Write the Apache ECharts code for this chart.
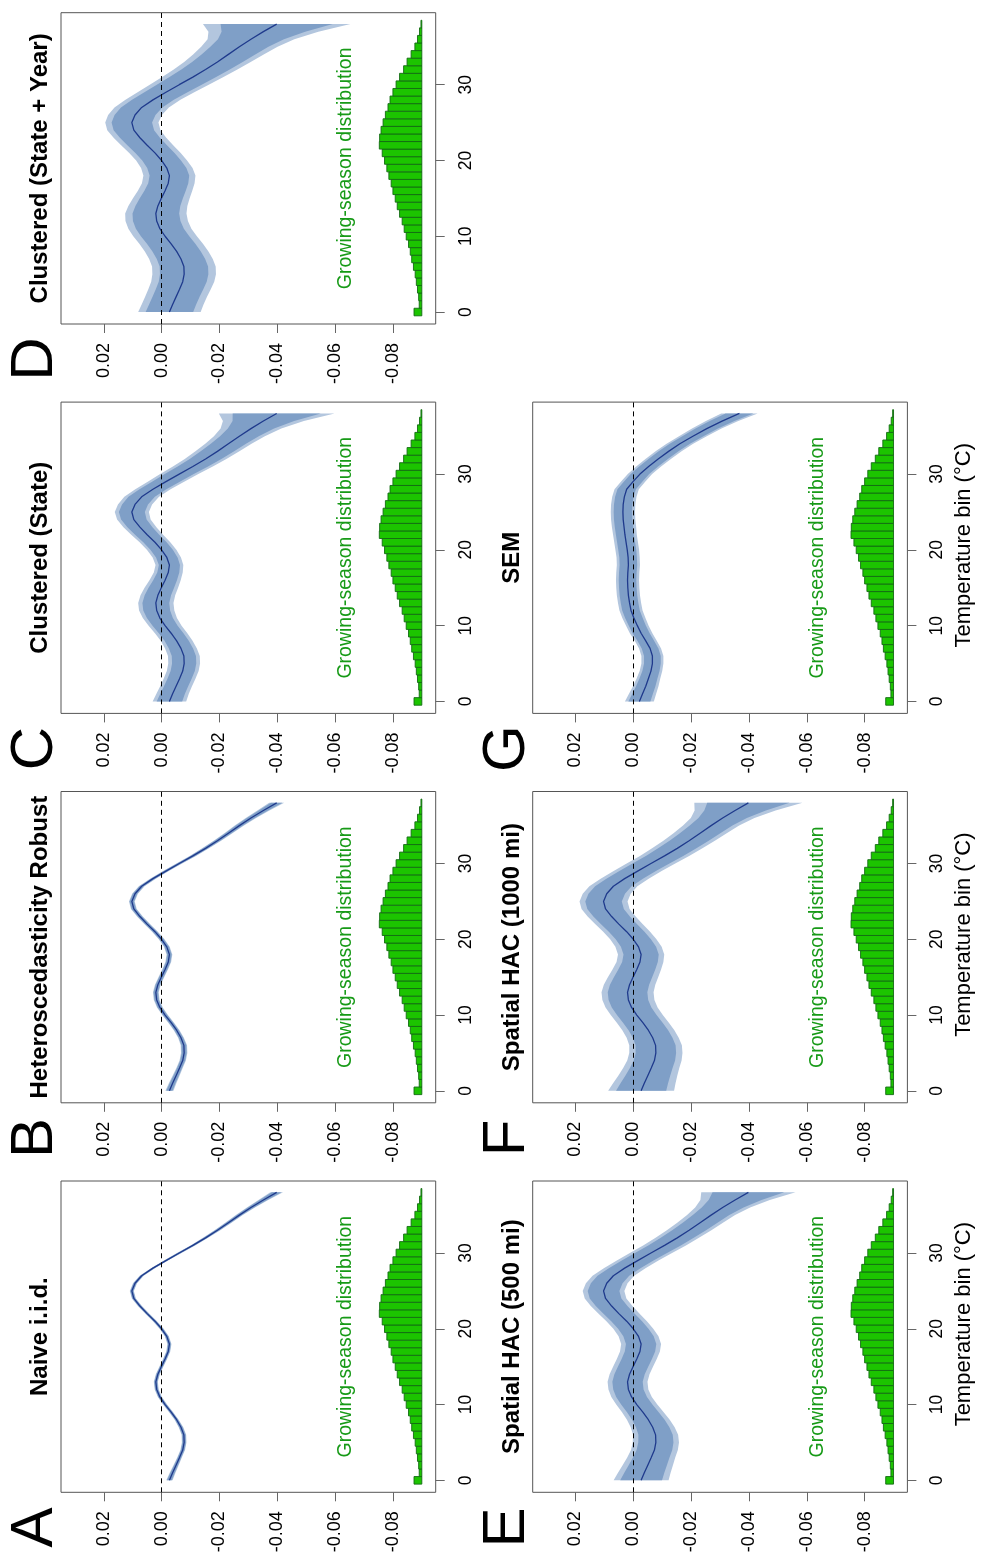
<!DOCTYPE html>
<html><head><meta charset="utf-8">
<script src="https://cdn.jsdelivr.net/npm/echarts@6/dist/echarts.min.js"></script>
<style>html,body{margin:0;padding:0;background:#fff}#c{width:981px;height:1564px}</style>
</head><body><div id="c"></div>
<script>
// ---------- data ----------
const temps = [0,1,2,3,4,5,6,7,8,9,10,11,12,13,14,15,16,17,18,19,20,21,22,23,24,25,26,27,28,29,30,31,32,33,34,35,36,37,38];
const tempTicks = [0,10,20,30];
const valueTicks = [0.02,0,-0.02,-0.04,-0.06,-0.08];
// growing-season exposure histogram (bar length in plot units)
const histLen = [0.0027,0.0009,0.0011,0.0015,0.0019,0.0023,0.0029,0.0035,0.0040,0.0046,0.0054,0.0061,0.0068,0.0077,0.0085,0.0092,0.0100,0.0106,0.0114,0.0121,0.0129,0.0137,0.0147,0.0146,0.0141,0.0134,0.0126,0.0117,0.0110,0.0100,0.0089,0.0077,0.0063,0.0051,0.0037,0.0024,0.0015,0.0008,0.0003];
// point estimates
const estMain = [-0.0027,-0.0038,-0.0050,-0.0062,-0.0073,-0.0078,-0.0077,-0.0067,-0.0052,-0.0033,-0.0012,0.0006,0.0017,0.0020,0.0013,0.0001,-0.0012,-0.0023,-0.0027,-0.0018,0.0000,0.0023,0.0050,0.0075,0.0096,0.0103,0.0092,0.0069,0.0030,-0.0015,-0.0061,-0.0108,-0.0152,-0.0193,-0.0231,-0.0269,-0.0309,-0.0352,-0.0398];
const estSEM = [-0.0021,-0.0032,-0.0043,-0.0052,-0.0061,-0.0066,-0.0066,-0.0058,-0.0043,-0.0027,-0.0014,-0.0002,0.0008,0.0013,0.0017,0.0019,0.0020,0.0019,0.0017,0.0018,0.0021,0.0025,0.0029,0.0032,0.0035,0.0036,0.0035,0.0031,0.0023,0.0001,-0.0023,-0.0053,-0.0086,-0.0122,-0.0161,-0.0206,-0.0254,-0.0307,-0.0367];
// half-widths of the outer (99%) confidence band
const hwA = [0.0011,0.0010,0.0009,0.0008,0.0008,0.0008,0.0008,0.0008,0.0007,0.0007,0.0007,0.0007,0.0007,0.0007,0.0007,0.0007,0.0007,0.0007,0.0007,0.0007,0.0007,0.0007,0.0007,0.0007,0.0007,0.0007,0.0007,0.0007,0.0007,0.0007,0.0008,0.0008,0.0009,0.0010,0.0011,0.0012,0.0014,0.0017,0.0022];
const hwB = [0.0014,0.0013,0.0012,0.0011,0.0011,0.0011,0.0011,0.0010,0.0010,0.0010,0.0010,0.0010,0.0010,0.0010,0.0010,0.0010,0.0010,0.0010,0.0010,0.0010,0.0010,0.0010,0.0010,0.0010,0.0010,0.0010,0.0010,0.0010,0.0010,0.0010,0.0010,0.0011,0.0012,0.0013,0.0014,0.0016,0.0018,0.0021,0.0026];
const hwC = [0.0058,0.0056,0.0055,0.0055,0.0055,0.0055,0.0055,0.0055,0.0055,0.0056,0.0057,0.0059,0.0061,0.0061,0.0060,0.0058,0.0054,0.0050,0.0048,0.0049,0.0051,0.0053,0.0055,0.0057,0.0058,0.0059,0.0059,0.0060,0.0061,0.0063,0.0066,0.0069,0.0072,0.0076,0.0080,0.0088,0.0105,0.0140,0.0200];
const hwD = [0.0108,0.0107,0.0107,0.0108,0.0109,0.0110,0.0110,0.0110,0.0110,0.0110,0.0110,0.0109,0.0108,0.0106,0.0102,0.0098,0.0094,0.0091,0.0090,0.0089,0.0088,0.0089,0.0090,0.0091,0.0092,0.0092,0.0093,0.0094,0.0095,0.0098,0.0102,0.0106,0.0110,0.0115,0.0122,0.0132,0.0150,0.0190,0.0255];
const hwE = [0.0095,0.0091,0.0087,0.0083,0.0081,0.0080,0.0078,0.0076,0.0074,0.0072,0.0071,0.0070,0.0069,0.0069,0.0069,0.0069,0.0069,0.0069,0.0069,0.0069,0.0069,0.0070,0.0071,0.0072,0.0072,0.0072,0.0072,0.0072,0.0072,0.0072,0.0073,0.0074,0.0075,0.0077,0.0079,0.0083,0.0095,0.0120,0.0163];
const hwF = [0.0114,0.0108,0.0102,0.0097,0.0094,0.0092,0.0091,0.0090,0.0090,0.0090,0.0090,0.0090,0.0090,0.0090,0.0089,0.0087,0.0084,0.0081,0.0080,0.0080,0.0080,0.0081,0.0082,0.0083,0.0083,0.0083,0.0083,0.0083,0.0083,0.0083,0.0084,0.0085,0.0087,0.0089,0.0092,0.0097,0.0110,0.0140,0.0187];
const hwG = [0.0050,0.0047,0.0044,0.0041,0.0039,0.0038,0.0038,0.0038,0.0038,0.0039,0.0039,0.0040,0.0040,0.0040,0.0040,0.0040,0.0040,0.0040,0.0040,0.0040,0.0041,0.0041,0.0041,0.0042,0.0042,0.0042,0.0042,0.0042,0.0042,0.0042,0.0042,0.0043,0.0044,0.0045,0.0046,0.0048,0.0051,0.0056,0.0063];
const letters = ['A','B','C','D','E','F','G'];
const titles = ['Naive i.i.d.','Heteroscedasticity Robust','Clustered (State)','Clustered (State + Year)','Spatial HAC (500 mi)','Spatial HAC (1000 mi)','SEM'];
const xLabel = 'Temperature bin (\u00B0C)';
const distLabel = 'Growing-season distribution';

// ---------- layout / style ----------
const Z95 = 1.96, Z99 = 2.576;
const HIST_BASE = -0.09;
const colLeft = [61, 532.7];
const rowTop = [12.7, 402.1, 791.5, 1181];
const W = 374.7, H = 311.3;
const FONT = 'Liberation Sans, Arial, Helvetica, sans-serif';
const panelEst = [estMain, estMain, estMain, estMain, estMain, estMain, estSEM];
const panelHw = [hwA, hwB, hwC, hwD, hwE, hwF, hwG];
const panelPos = [[0,3],[0,2],[0,1],[0,0],[1,3],[1,2],[1,1]];

const grids = [], xAxes = [], yAxes = [], series = [], graphics = [];

function band(i, est, hw, factor, color) {
  return {
    type: 'custom', xAxisIndex: i, yAxisIndex: i, silent: true,
    data: [[0, 0]], encode: {x: 0, y: 1},
    renderItem: function (params, api) {
      const up = [], lo = [];
      temps.forEach(function (t, k) {
        up.push(api.coord([est[k] + hw[k] * factor, t]));
        lo.push(api.coord([est[k] - hw[k] * factor, t]));
      });
      return {type: 'polygon', shape: {points: up.concat(lo.reverse())}, style: {fill: color}};
    }
  };
}

for (let i = 0; i < 7; i++) {
  const c = panelPos[i][0], r = panelPos[i][1];
  const L = colLeft[c], T = rowTop[r];
  grids.push({left: L, top: T, width: W, height: H, show: true, borderColor: '#555', borderWidth: 1, backgroundColor: 'transparent'});
  xAxes.push({
    gridIndex: i, type: 'value', inverse: true, min: -0.0948, max: 0.0348, position: 'bottom',
    axisLine: {show: false, onZero: false}, splitLine: {show: false},
    axisTick: {show: true, length: 9, customValues: valueTicks, lineStyle: {color: '#666', width: 1}},
    axisLabel: {customValues: valueTicks, rotate: 90, margin: 19, fontSize: 18, color: '#000', fontFamily: FONT,
      formatter: function (v) { return v.toFixed(2); }}
  });
  yAxes.push({
    gridIndex: i, type: 'value', min: -1.58, max: 39.5, position: 'right',
    axisLine: {show: false, onZero: false}, splitLine: {show: false},
    axisTick: {show: true, length: 9, customValues: tempTicks, lineStyle: {color: '#666', width: 1}},
    axisLabel: {customValues: tempTicks, rotate: 90, margin: 21, fontSize: 17.5, color: '#000', fontFamily: FONT}
  });
  const est = panelEst[i], hw = panelHw[i];
  series.push(band(i, est, hw, 1, '#b3c6de'));
  series.push(band(i, est, hw, Z95 / Z99, '#7f9fc7'));
  series.push({
    type: 'custom', xAxisIndex: i, yAxisIndex: i, silent: true,
    data: temps.map(function (t, k) { return [t, histLen[k]]; }),
    encode: {x: 1, y: 0},
    renderItem: function (params, api) {
      const t = api.value(0), len = api.value(1);
      const p1 = api.coord([HIST_BASE, t - 0.5]);
      const p2 = api.coord([HIST_BASE + len, t + 0.5]);
      return {type: 'rect',
        shape: {x: Math.min(p1[0], p2[0]), y: Math.min(p1[1], p2[1]), width: Math.abs(p2[0] - p1[0]), height: Math.abs(p2[1] - p1[1])},
        style: {fill: '#1cc400', stroke: '#136b13', lineWidth: 0.9}};
    }
  });
  series.push({
    type: 'line', xAxisIndex: i, yAxisIndex: i, silent: true, showSymbol: false, symbol: 'none',
    data: temps.map(function (t, k) { return [est[k], t]; }),
    lineStyle: {color: '#1f3a8c', width: 1.3},
    markLine: {silent: true, symbol: 'none', label: {show: false}, animation: false,
      lineStyle: {color: '#000', type: [5, 4], width: 1}, data: [{xAxis: 0}]}
  });
  // texts
  graphics.push({type: 'text', x: L - 20.7, y: T + H / 2, rotation: Math.PI / 2,
    style: {text: titles[i], font: 'bold 24px ' + FONT, fill: '#000', textAlign: 'center', textVerticalAlign: 'middle'}});
  graphics.push({type: 'text', x: L - 25.3, y: T + H + 35.2, rotation: Math.PI / 2,
    style: {text: letters[i], font: '60px ' + FONT, fill: '#000', textAlign: 'center', textVerticalAlign: 'middle'}});
  graphics.push({type: 'text', x: L + 284.5, y: T + H / 2, rotation: Math.PI / 2,
    style: {text: distLabel, font: '19.5px ' + FONT, fill: '#179a17', textAlign: 'center', textVerticalAlign: 'middle'}});
  if (c === 1) {
    graphics.push({type: 'text', x: L + W + 56.7, y: T + H / 2 - 12.5, rotation: Math.PI / 2,
      style: {text: xLabel, font: '22px ' + FONT, fill: '#000', textAlign: 'center', textVerticalAlign: 'middle'}});
  }
}

const chart = echarts.init(document.getElementById('c'), null, {renderer: 'canvas'});
chart.setOption({
  animation: false,
  backgroundColor: '#fff',
  grid: grids, xAxis: xAxes, yAxis: yAxes, series: series,
  graphic: {elements: graphics}
});
</script></body></html>
